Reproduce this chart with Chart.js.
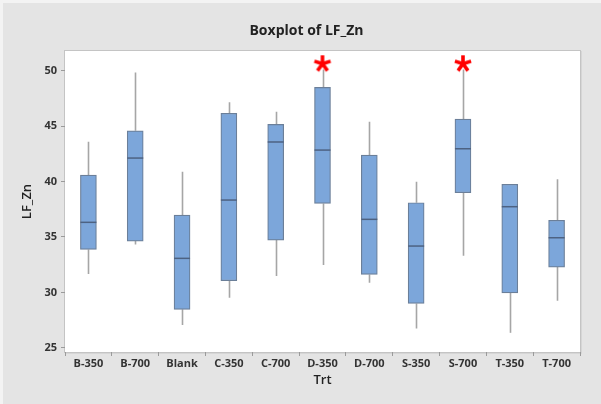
<!DOCTYPE html>
<html>
<head>
<meta charset="utf-8">
<script src="https://cdn.jsdelivr.net/npm/chart.js@4.4.0/dist/chart.umd.min.js"></script>
<style>
  html, body { margin: 0; padding: 0; background: #e4e4e4; }
  canvas { display: block; }
</style>
</head>
<body>
<canvas id="boxChart" width="601" height="404"></canvas>
<script>
// values
const categories = ['B-350', 'B-700', 'Blank', 'C-350', 'C-700', 'D-350', 'D-700', 'S-350', 'S-700', 'T-350', 'T-700'];
const whiskerLow  = [31.65, 34.33, 27.05, 29.51, 31.47, 32.46, 30.87, 26.75, 33.30, 26.35, 29.24];
const q1Values    = [33.88, 34.63, 28.47, 31.05, 34.72, 38.03, 31.62, 29.00, 38.99, 29.96, 32.28];
const medians     = [36.32, 42.12, 33.07, 38.33, 43.57, 42.84, 36.59, 34.18, 42.96, 37.73, 34.93];
const q3Values    = [40.59, 44.58, 36.98, 46.16, 45.16, 48.50, 42.39, 38.09, 45.64, 39.75, 36.50];
const whiskerHigh = [43.60, 49.85, 40.88, 47.15, 46.30, 50.10, 45.40, 39.98, 50.10, 39.75, 40.20];
const outlierCats   = ['D-350', 'S-700'];
const outlierValues = [50.67, 50.67];
const yTickValues = [25, 30, 35, 40, 45, 50];

const boxFill = '#7ca6da';
const boxEdge = '#6b7f99';
const medianColor = '#4d6282';
const whiskerColor = '#a6a6a6';

// red asterisk used as point style for outliers
function makeAsterisk() {
    const c = document.createElement('canvas');
    c.width = 20; c.height = 20;
    const g = c.getContext('2d');
    g.strokeStyle = '#ff0000';
    g.lineWidth = 3.6;
    g.lineCap = 'butt';
    for (let k = 0; k < 5; k++) {
        const a = -Math.PI / 2 + k * 2 * Math.PI / 5;
        g.beginPath();
        g.moveTo(10, 10.5);
        g.lineTo(10 + 8.5 * Math.cos(a), 10.5 + 8.5 * Math.sin(a));
        g.stroke();
    }
    return c;
}

const backdrop = {
    id: 'backdrop',
    beforeDraw(chart) {
        const {ctx, chartArea: a} = chart;
        ctx.save();
        ctx.fillStyle = '#f3f3f3';
        ctx.fillRect(0, 0, chart.width, chart.height);
        ctx.fillStyle = '#e4e4e4';
        ctx.fillRect(3, 3, chart.width - 3, chart.height - 3);
        ctx.fillStyle = '#ffffff';
        ctx.fillRect(a.left, a.top, a.right - a.left, a.bottom - a.top);
        ctx.strokeStyle = '#c4c4c4';
        ctx.lineWidth = 1;
        ctx.strokeRect(a.left - 0.5, a.top - 0.5, a.right - a.left + 1, a.bottom - a.top + 1);
        ctx.strokeStyle = '#d6d6d6';
        ctx.beginPath();
        ctx.moveTo(a.right + 1.5, a.top);
        ctx.lineTo(a.right + 1.5, a.bottom + 1.5);
        ctx.lineTo(a.left, a.bottom + 1.5);
        ctx.stroke();
        ctx.restore();
    },
    afterDraw(chart) {
        const ctx = chart.ctx;
        ctx.save();
        ctx.fillStyle = '#222222';
        ctx.font = 'bold 14px "Open Sans"';
        ctx.textAlign = 'center';
        ctx.textBaseline = 'middle';
        ctx.fillText('Boxplot of LF_Zn', chart.width / 2 + 6, 31);
        ctx.restore();
    }
};

const boxParts = {
    id: 'boxParts',
    beforeDatasetsDraw(chart) {
        const {ctx, scales: {x, y}} = chart;
        ctx.save();
        ctx.strokeStyle = whiskerColor;
        ctx.lineWidth = 1.6;
        categories.forEach((c, i) => {
            const px = Math.round(x.getPixelForValue(i)) + 0.5;
            ctx.beginPath();
            ctx.moveTo(px, y.getPixelForValue(q3Values[i]));
            ctx.lineTo(px, y.getPixelForValue(whiskerHigh[i]));
            ctx.moveTo(px, y.getPixelForValue(q1Values[i]));
            ctx.lineTo(px, y.getPixelForValue(whiskerLow[i]));
            ctx.stroke();
        });
        ctx.restore();
    },
    afterDatasetsDraw(chart) {
        const {ctx, scales: {x, y}} = chart;
        const bars = chart.getDatasetMeta(0).data;
        ctx.save();
        ctx.strokeStyle = medianColor;
        ctx.lineWidth = 1.5;
        bars.forEach((bar, i) => {
            const half = bar.width / 2;
            const py = y.getPixelForValue(medians[i]);
            ctx.beginPath();
            ctx.moveTo(bar.x - half, py);
            ctx.lineTo(bar.x + half, py);
            ctx.stroke();
        });
        ctx.restore();
    }
};

const tickFont = { family: '"Open Sans"', size: 11, weight: 'bold' };

new Chart(document.getElementById('boxChart').getContext('2d'), {
    type: 'bar',
    data: {
        labels: categories,
        datasets: [{
            data: categories.map((c, i) => [q1Values[i], q3Values[i]]),
            backgroundColor: boxFill,
            borderColor: boxEdge,
            borderWidth: 1.2,
            borderSkipped: false,
            barThickness: 16,
            order: 2
        }, {
            type: 'scatter',
            data: outlierCats.map((c, i) => ({ x: c, y: outlierValues[i] })),
            pointStyle: makeAsterisk(),
            pointRadius: 10,
            order: 1
        }]
    },
    options: {
        responsive: false,
        animation: false,
        devicePixelRatio: 1,
        layout: { padding: { top: 51, right: 21, left: 0, bottom: 0 } },
        plugins: {
            legend: { display: false },
            title: { display: false },
            tooltip: { enabled: false }
        },
        scales: {
            x: {
                type: 'category',
                offset: true,
                afterFit: scale => { scale.height = 52; },
                grid: { drawOnChartArea: false, tickLength: 4, color: '#9a9a9a' },
                border: { display: false },
                ticks: { font: tickFont, color: '#333333', padding: 1, maxRotation: 0 },
                title: {
                    display: true,
                    text: 'Trt',
                    font: { family: '"Open Sans"', size: 13, weight: '600' },
                    color: '#222222',
                    padding: { top: 0, bottom: 16 }
                }
            },
            y: {
                min: 24.62,
                max: 51.78,
                afterFit: scale => { scale.width = 65; },
                afterBuildTicks: scale => { scale.ticks = yTickValues.map(v => ({ value: v })); },
                grid: { drawOnChartArea: false, tickLength: 4, color: '#9a9a9a' },
                border: { display: false },
                ticks: { font: tickFont, color: '#333333', padding: 4 },
                title: {
                    display: true,
                    text: 'LF_Zn',
                    font: { family: '"Open Sans"', size: 13, weight: '600' },
                    color: '#222222',
                    padding: { top: 19, bottom: 0 }
                }
            }
        }
    },
    plugins: [backdrop, boxParts]
});
</script>
</body>
</html>
